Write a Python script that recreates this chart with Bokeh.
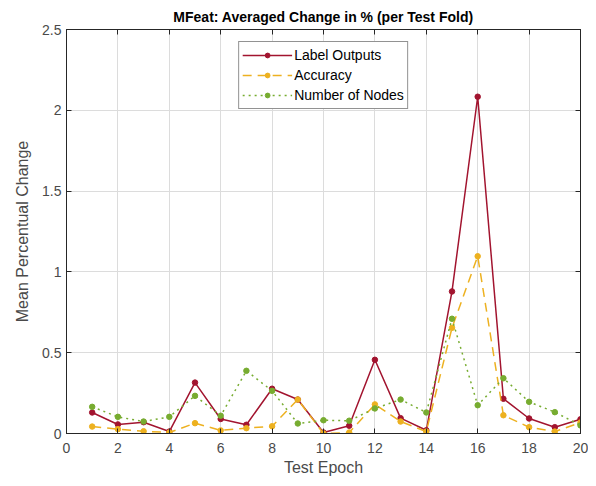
from bokeh.plotting import figure
from bokeh.embed import file_html
from bokeh.resources import INLINE
from bokeh.models import LinearAxis, FixedTicker, Range1d, Legend, LegendItem

epochs = list(range(1, 21))
label_outputs = [0.13, 0.056, 0.07, 0.012, 0.315, 0.09, 0.054, 0.277, 0.21, 0.006,
                 0.048, 0.456, 0.095, 0.02, 0.879, 2.084, 0.215, 0.093, 0.039, 0.088]
accuracy = [0.043, 0.027, 0.014, 0.006, 0.064, 0.019, 0.033, 0.045, 0.21, 0.0,
            0.006, 0.18, 0.074, 0.012, 0.654, 1.097, 0.113, 0.039, 0.012, 0.068]
num_nodes = [0.165, 0.103, 0.074, 0.103, 0.233, 0.11, 0.388, 0.264, 0.062, 0.082,
             0.079, 0.155, 0.21, 0.13, 0.71, 0.175, 0.342, 0.196, 0.132, 0.05]
x_ticks = list(range(0, 21, 2))
y_ticks = [0, 0.5, 1, 1.5, 2, 2.5]
y_tick_labels = ["0", "0.5", "1", "1.5", "2", "2.5"]

FONT = "Liberation Sans"
TXT = "#262626"
LBL = "#4a4a4a"

p = figure(width=588, height=478, output_backend="svg", toolbar_location=None,
           x_range=Range1d(0, 20), y_range=Range1d(0, 2.5),
           frame_width=514, frame_height=404,
           min_border_left=66, min_border_right=8, min_border_top=29, min_border_bottom=45,
           title="MFeat: Averaged Change in % (per Test Fold)")
p.title.align = "center"
p.title.text_font = FONT
p.title.text_font_size = "14px"
p.title.text_font_style = "bold"
p.title.text_color = "#000000"
p.title.offset = 0
p.title.standoff = 10
p.background_fill_color = "white"
p.border_fill_color = "white"
p.outline_line_color = TXT
p.outline_line_width = 1

for ax in (p.xaxis[0], p.yaxis[0]):
    ax.major_label_text_font = FONT
    ax.major_label_text_font_size = "14px"
    ax.major_label_text_color = LBL
    ax.axis_label_text_font = FONT
    ax.axis_label_text_font_size = "16px"
    ax.axis_label_text_font_style = "normal"
    ax.axis_label_text_color = LBL
    ax.axis_line_color = TXT
    ax.major_tick_line_color = TXT
    ax.major_tick_in = 5
    ax.major_tick_out = 0
    ax.minor_tick_line_color = None

p.xaxis.ticker = FixedTicker(ticks=x_ticks)
p.yaxis.ticker = FixedTicker(ticks=y_ticks)
p.yaxis.major_label_overrides = {t: l for t, l in zip(y_ticks, y_tick_labels)}
p.xaxis.axis_label = "Test Epoch"
p.yaxis.axis_label = "Mean Percentual Change"
p.xaxis.major_label_standoff = 9
p.xaxis.axis_label_standoff = 3
p.yaxis.major_label_standoff = 5
p.yaxis.axis_label_standoff = 8

# box ticks on top and right
top = LinearAxis(ticker=FixedTicker(ticks=x_ticks), major_label_text_font_size="0px",
                 axis_line_color=TXT, major_tick_line_color=TXT, major_tick_in=5, major_tick_out=0,
                 minor_tick_line_color=None, major_label_standoff=0)
right = LinearAxis(ticker=FixedTicker(ticks=y_ticks), major_label_text_font_size="0px",
                   axis_line_color=TXT, major_tick_line_color=TXT, major_tick_in=5, major_tick_out=0,
                   minor_tick_line_color=None, major_label_standoff=0)
top.major_label_text_color = None
right.major_label_text_color = None
p.add_layout(top, "above")
p.add_layout(right, "right")

p.xgrid.ticker = FixedTicker(ticks=x_ticks)
p.ygrid.ticker = FixedTicker(ticks=y_ticks)
p.grid.grid_line_color = "#dcdcdc"
p.grid.grid_line_width = 1

RED = "#A2142F"
ORANGE = "#EDB120"
GREEN = "#77AC30"

l1 = p.line(epochs, label_outputs, line_color=RED, line_width=1.5)
s1 = p.scatter(epochs, label_outputs, size=5.5, fill_color=RED, line_color=RED)
l2 = p.line(epochs, accuracy, line_color=ORANGE, line_width=1.5, line_dash="9 6")
s2 = p.scatter(epochs, accuracy, size=5.5, fill_color=ORANGE, line_color=ORANGE)
l3 = p.line(epochs, num_nodes, line_color=GREEN, line_width=1.5, line_dash="2 4")
s3 = p.scatter(epochs, num_nodes, size=5.5, fill_color=GREEN, line_color=GREEN)

legend = Legend(items=[
    LegendItem(label="Label Outputs", renderers=[l1, s1]),
    LegendItem(label="Accuracy", renderers=[l2, s2]),
    LegendItem(label="Number of Nodes", renderers=[l3, s3]),
], location="top_center")
legend.margin = 12
legend.padding = 3
legend.spacing = 0
legend.glyph_width = 50
legend.glyph_height = 12
legend.label_height = 20
legend.label_standoff = 2
legend.label_text_font = FONT
legend.label_text_font_size = "14px"
legend.label_text_color = "#000000"
legend.border_line_color = TXT
legend.border_line_width = 1
legend.background_fill_color = "white"
legend.background_fill_alpha = 1
p.add_layout(legend, "center")

open("out.html", "w").write(file_html(p, INLINE))
